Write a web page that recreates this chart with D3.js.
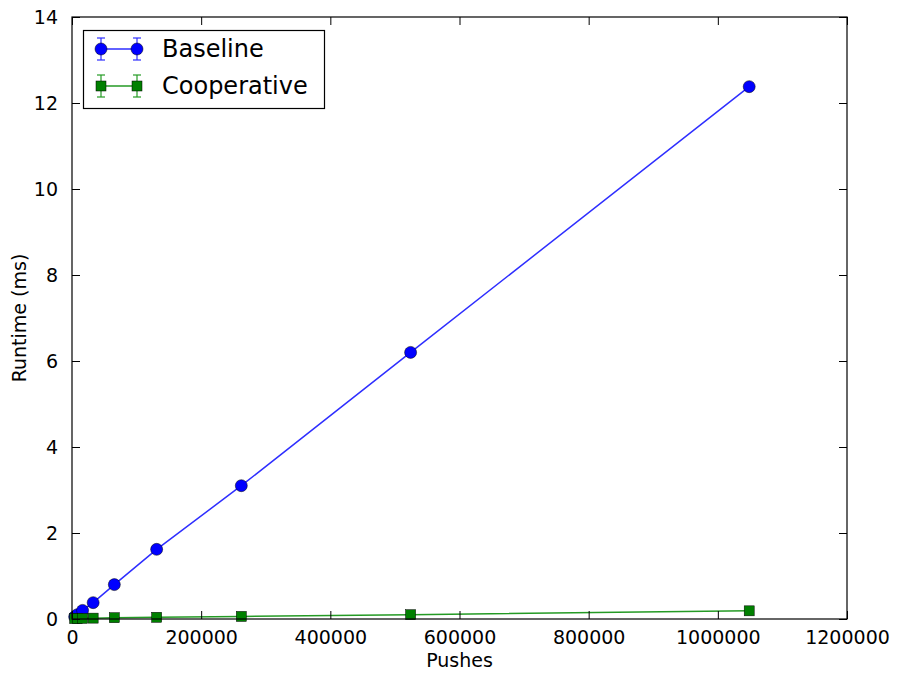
<!DOCTYPE html>
<html>
<head>
<meta charset="utf-8">
<script src="https://cdn.jsdelivr.net/npm/d3@7"></script>
<style>
  body { margin: 0; background: #fff; }
  svg { display: block; font-family: "DejaVu Sans", sans-serif; }
</style>
</head>
<body>
<div id="Chart"></div>
<script>
// values
var pushes = [4096, 8192, 16384, 32768, 65536, 131072, 262144, 524288, 1048576];
var baseline = [0.05, 0.1, 0.2, 0.38, 0.8, 1.62, 3.1, 6.2, 12.38];
var cooperative = [0.01, 0.01, 0.015, 0.02, 0.03, 0.04, 0.06, 0.1, 0.19];
var xTicks = [0, 200000, 400000, 600000, 800000, 1000000, 1200000];
var yTicks = [0, 2, 4, 6, 8, 10, 12, 14];

var W = 897, H = 676;
var plotL = 72, plotR = 847, plotT = 17, plotB = 619;

var svg = d3.select("#Chart").append("svg")
	.attr("width", W).attr("height", H);

var x = d3.scaleLinear().domain([0, 1200000]).range([plotL, plotR]);
var y = d3.scaleLinear().domain([0, 14]).range([plotB, plotT]);

var series = [
	{name: "Baseline", values: baseline, line: "#2e2eff", fill: "#0000ff", shape: "circle"},
	{name: "Cooperative", values: cooperative, line: "#249a24", fill: "#008000", shape: "square"}
];

var plot = svg.append("g");
var lineGen = d3.line().x(d => x(d[0])).y(d => y(d[1]));

function drawMarker(g, shape, fill, cx, cy) {
	if (shape == "circle") {
		g.append("circle").attr("cx", cx).attr("cy", cy).attr("r", 6)
			.attr("fill", fill).attr("stroke", "#000").attr("stroke-width", 0.5);
	} else {
		g.append("rect").attr("x", cx - 5).attr("y", cy - 5)
			.attr("width", 10).attr("height", 10)
			.attr("fill", fill).attr("stroke", "#000").attr("stroke-width", 0.5);
	}
}

series.forEach(s => {
	var pts = pushes.map((p, i) => [p, s.values[i]]);
	plot.append("path").datum(pts)
		.attr("d", lineGen)
		.attr("fill", "none")
		.attr("stroke", s.line)
		.attr("stroke-width", 1.5);
	var mg = plot.append("g");
	pts.forEach(d => drawMarker(mg, s.shape, s.fill, x(d[0]), y(d[1])));
});

// axes, ticks pointing inward on all four sides
var tickLen = 8;
var axB = svg.append("g").attr("transform", `translate(0,${plotB})`)
	.call(d3.axisBottom(x).tickValues(xTicks).tickSizeInner(-tickLen).tickSizeOuter(0)
		.tickPadding(12).tickFormat(d3.format("d")));
var axT = svg.append("g").attr("transform", `translate(0,${plotT})`)
	.call(d3.axisTop(x).tickValues(xTicks).tickSizeInner(-tickLen).tickSizeOuter(0)
		.tickFormat(""));
var axL = svg.append("g").attr("transform", `translate(${plotL},0)`)
	.call(d3.axisLeft(y).tickValues(yTicks).tickSizeInner(-tickLen).tickSizeOuter(0)
		.tickPadding(14).tickFormat(d3.format("d")));
var axR = svg.append("g").attr("transform", `translate(${plotR},0)`)
	.call(d3.axisRight(y).tickValues(yTicks).tickSizeInner(-tickLen).tickSizeOuter(0)
		.tickFormat(""));

[axB, axT, axL, axR].forEach(a => {
	a.select(".domain").remove();
	a.selectAll("line").attr("stroke", "#000").attr("stroke-width", 1);
	a.selectAll("text").attr("font-size", 19).attr("fill", "#000")
		.attr("font-family", "DejaVu Sans, sans-serif");
});
axB.selectAll("text").attr("dy", "0.71em");

svg.append("rect")
	.attr("x", plotL).attr("y", plotT)
	.attr("width", plotR - plotL).attr("height", plotB - plotT)
	.attr("fill", "none").attr("stroke", "#000").attr("stroke-width", 1.2);

// axis labels
svg.append("text")
	.attr("x", (plotL + plotR) / 2).attr("y", 667)
	.attr("text-anchor", "middle").attr("font-size", 19)
	.text("Pushes");
svg.append("text")
	.attr("transform", `translate(26,${(plotT + plotB) / 2}) rotate(-90)`)
	.attr("text-anchor", "middle").attr("font-size", 19)
	.text("Runtime (ms)");

// legend
var lg = svg.append("g");
lg.append("rect")
	.attr("x", 83.5).attr("y", 30.5).attr("width", 241).attr("height", 78)
	.attr("fill", "#fff").attr("stroke", "#000").attr("stroke-width", 1.2);
series.forEach((s, i) => {
	var ly = 49 + i * 37;
	lg.append("line").attr("x1", 101).attr("x2", 137).attr("y1", ly).attr("y2", ly)
		.attr("stroke", s.line).attr("stroke-width", 1.5);
	[101, 137].forEach(lx => {
		lg.append("line").attr("x1", lx).attr("x2", lx).attr("y1", ly - 11).attr("y2", ly + 11)
			.attr("stroke", s.line).attr("stroke-width", 1.2);
		[ly - 11, ly + 11].forEach(cy => {
			lg.append("line").attr("x1", lx - 4).attr("x2", lx + 4).attr("y1", cy).attr("y2", cy)
				.attr("stroke", s.line).attr("stroke-width", 1.2);
		});
		drawMarker(lg, s.shape, s.fill, lx, ly);
	});
	lg.append("text").attr("x", 162).attr("y", ly).attr("dy", "0.35em")
		.attr("font-size", 24).text(s.name);
});
</script>
</body>
</html>
